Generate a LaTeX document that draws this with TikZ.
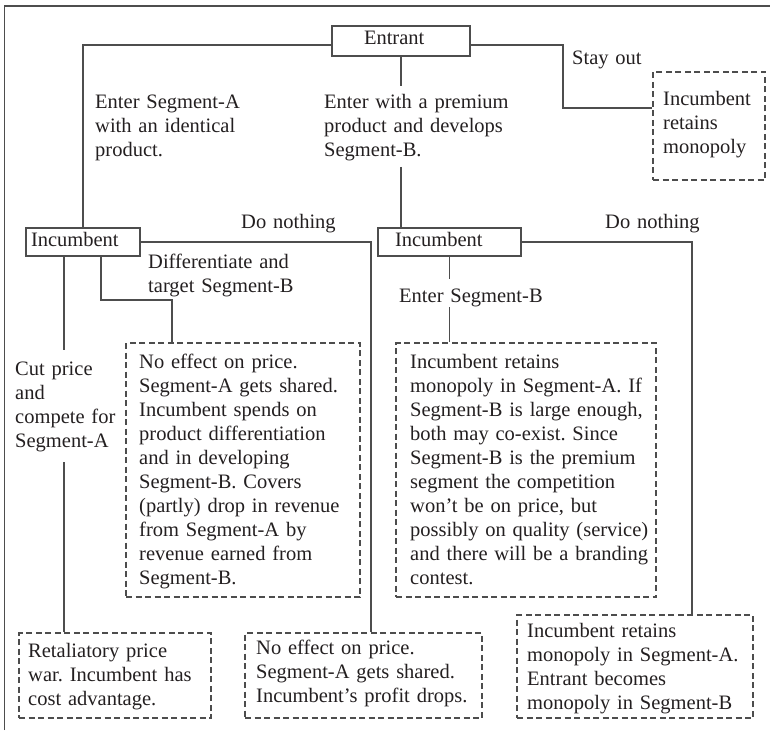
\documentclass[tikz,border=0pt]{standalone}
\usepackage{fontspec}
\setmainfont{Liberation Serif}
\definecolor{linegray}{HTML}{4D4D4D}
\definecolor{ink}{HTML}{231F20}
\newcommand\diagfont{\fontsize{20.5}{24}\selectfont\frenchspacing}
\begin{document}
\begin{tikzpicture}[x=1pt,y=-1pt,
  conn/.style={draw=linegray, line width=1.4pt},
  solidbox/.style={draw=linegray, line width=1.4pt, rectangle, inner ysep=0pt,
    font=\diagfont, text=ink, align=left},
  dbox/.style={draw=linegray, line width=1.3pt, dash pattern=on 6pt off 3.5pt,
    rectangle, inner sep=0pt},
  txt/.style={anchor=base west, inner sep=0pt, text width=300pt, align=left,
    font=\diagfont, text=ink}]
\useasboundingbox (0,0) rectangle (770,730);

% outer frame (left and top edges)
\draw[draw=linegray, line width=1.8pt] (4.5,730) -- (4.5,6) -- (770,6);

% decision nodes
\node[solidbox, inner xsep=32pt, text width=74pt, text height=14pt, text depth=6pt,
  minimum height=30pt] (ent) at (401,41) {Entrant};
\node[solidbox, inner xsep=5pt, text width=104pt, text height=14pt, text depth=5pt,
  minimum height=28pt] (inc1) at (83,242) {Incumbent};
\node[solidbox, inner xsep=17pt, text width=109pt, text height=14pt, text depth=5pt,
  minimum height=28pt] (inc2) at (449.5,242) {Incumbent};

% outcome boxes
\node[dbox, minimum width=112pt, minimum height=108pt] (mono)  at (709,126) {};
\node[dbox, minimum width=234pt, minimum height=254pt] (diff)  at (243,470) {};
\node[dbox, minimum width=192pt, minimum height=85pt]  (war)   at (115,675.5) {};
\node[dbox, minimum width=237pt, minimum height=85pt]  (share) at (363.5,675.5) {};
\node[dbox, minimum width=260pt, minimum height=254pt] (coex)  at (526,470) {};
\node[dbox, minimum width=236pt, minimum height=103pt] (bmono) at (635,666.5) {};

% outcome texts
\node[txt] (monoT) at (663,106) {Incumbent\\retains\\monopoly};
\node[txt] (diffT) at (139,368) {No effect on price.\\Segment-A gets shared.\\Incumbent spends on\\product differentiation\\and in developing\\Segment-B. Covers\\(partly) drop in revenue\\from Segment-A by\\revenue earned from\\Segment-B.};
\node[txt] (warT) at (28,657) {Retaliatory price\\war. Incumbent has\\cost advantage.};
\node[txt] (shareT) at (256,654) {No effect on price.\\Segment-A gets shared.\\Incumbent’s profit drops.};
\node[txt] (coexT) at (410,368) {Incumbent retains\\monopoly in Segment-A. If\\Segment-B is large enough,\\both may co-exist. Since\\Segment-B is the premium\\segment the competition\\won’t be on price, but\\possibly on quality (service)\\and there will be a branding\\contest.};
\node[txt] (bmonoT) at (527,637) {Incumbent retains\\monopoly in Segment-A.\\Entrant becomes\\monopoly in Segment-B};

% branch labels
\node[txt] (labA) at (95,109) {Enter Segment-A\\with an identical\\product.};
\node[txt] (labB) at (324,109) {Enter with a premium\\product and develops\\Segment-B.};
\node[txt] (labStay) at (572,65) {Stay out};
\node[txt] (labDo1) at (241,228) {Do nothing};
\node[txt] (labDo2) at (605,228) {Do nothing};
\node[txt] (labDiff) at (148,268) {Differentiate and\\target Segment-B};
\node[txt] (labCut) at (15,375) {Cut price\\and\\compete for\\Segment-A};
\node[txt] (labEnterB) at (399,302) {Enter Segment-B};

% bend points and label gaps
\coordinate (soBend) at (563,108);
\coordinate (difBend) at (172,300);
\coordinate (cutTop) at (64,350);
\coordinate (cutBot) at (64,462);

% connectors from the entrant
\draw[conn] ([yshift=-4pt]ent.west) -| (inc1.north);
\draw[conn] (ent.south) -- (ent.south |- 0,86);
\draw[conn] (ent.south |- 0,167) -- (ent.south |- inc2.north);
\draw[conn] ([yshift=-4pt]ent.east) -| (soBend) -- (soBend -| mono.west);

% connectors from the first incumbent
\draw[conn] (inc1.east) -| ([xshift=7.5pt]share.north);
\draw[conn] (inc1.south -| cutTop) -- (cutTop);
\draw[conn] (cutBot) -- (cutBot |- war.north);
\draw[conn] (inc1.south -| 101,0) |- (difBend) -- (difBend |- diff.north);

% connectors from the second incumbent
\draw[conn] (inc2.east) -| (bmono.north -| 692,0);
\draw[conn] (inc2.south) -- (inc2.south |- 0,279);
\draw[conn] (inc2.south |- 0,307) -- (inc2.south |- coex.north);
\end{tikzpicture}
\end{document}
